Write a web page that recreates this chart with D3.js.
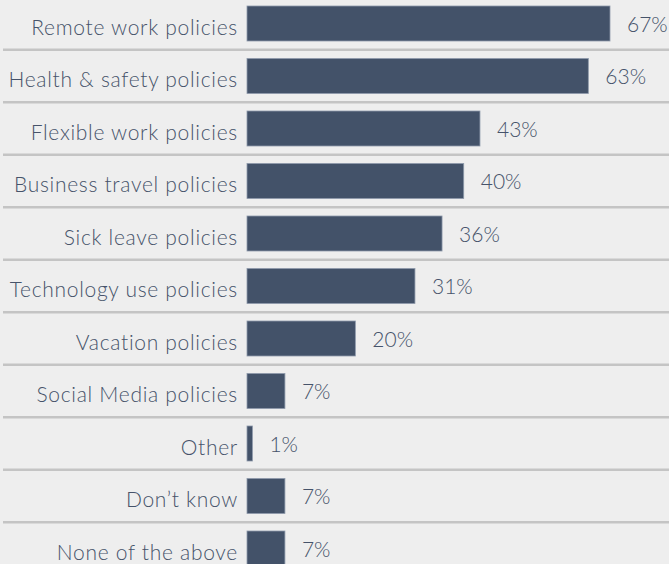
<!DOCTYPE html>
<html>
<head>
<meta charset="utf-8">
<script src="https://cdn.jsdelivr.net/npm/d3@7"></script>
<style>
  html, body { margin: 0; padding: 0; background: #eeeeee; }
  svg { display: block; }
</style>
</head>
<body>
<svg id="chart" width="669" height="564"></svg>
<script>
const categories = [
  "Remote work policies",
  "Health & safety policies",
  "Flexible work policies",
  "Business travel policies",
  "Sick leave policies",
  "Technology use policies",
  "Vacation policies",
  "Social Media policies",
  "Other",
  "Don\u2019t know",
  "None of the above"
];
const values = [67, 63, 43, 40, 36, 31, 20, 7, 1, 7, 7];

const W = 669, H = 564;
const svg = d3.select("#chart");
svg.append("rect").attr("width", W).attr("height", H).attr("fill", "#eeeeee");

const x = d3.scaleLinear().domain([0, 67]).range([247, 610]);
const y = d3.scaleBand().domain(categories).range([-2.75, 574.75])
  .paddingInner(1/3).paddingOuter(1/6);

const step = y.step();
const data = categories.map((c, i) => ({ c, v: values[i] }));

// separators
svg.append("g").selectAll("line")
  .data(categories.slice(0, -1))
  .join("line")
  .attr("x1", 3).attr("x2", W)
  .attr("y1", d => y(d) - step * y.paddingOuter() + step)
  .attr("y2", d => y(d) - step * y.paddingOuter() + step)
  .attr("stroke", "#c4c4c4").attr("stroke-width", 2.5);

// bars
svg.append("g").selectAll("rect")
  .data(data)
  .join("rect")
  .attr("x", x(0))
  .attr("y", d => y(d.c))
  .attr("width", d => x(d.v) - x(0))
  .attr("height", y.bandwidth())
  .attr("fill", "#435269")
  .attr("stroke", "#8e9aab")
  .attr("stroke-width", 0.8);

const font = "Lato, 'Noto Sans', sans-serif";

// category labels
svg.append("g").selectAll("text")
  .data(data)
  .join("text")
  .attr("x", 238)
  .attr("y", d => y(d.c) + y.bandwidth() / 2 + 11)
  .attr("text-anchor", "end")
  .attr("font-family", font)
  .attr("font-weight", 300)
  .attr("font-size", 21)
  .attr("letter-spacing", 0.7)
  .attr("fill", "#46536a")
  .text(d => d.c);

// value labels
svg.append("g").selectAll("text")
  .data(data)
  .join("text")
  .attr("x", d => x(d.v) + 17)
  .attr("y", d => y(d.c) + y.bandwidth() / 2 + 8)
  .attr("font-family", font)
  .attr("font-weight", 300)
  .attr("font-size", 21)
  .attr("fill", "#46536a")
  .text(d => d.v + "%");
</script>
</body>
</html>
